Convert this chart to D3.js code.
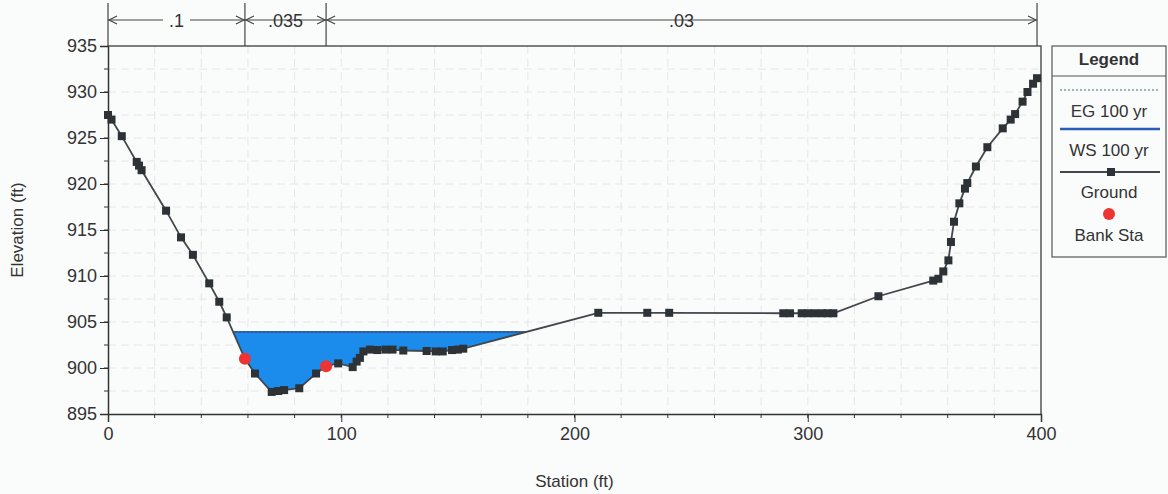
<!DOCTYPE html>
<html>
<head>
<meta charset="utf-8">
<script src="https://cdn.jsdelivr.net/npm/d3@7"></script>
<style>
    body { margin: 0; background: #fafbfb; }
    text { font-family: "Liberation Sans", Arial, sans-serif; fill: #333; }
</style>
</head>
<body>
<div id="chart"></div>
<script>
// Ground profile (station ft, elevation ft)
let groundSta = [0, 1.5, 5.9, 12.3, 13.3, 14.4, 24.9, 31.3, 36.4, 43.4, 47.7, 50.9, 58.7, 63.0, 70.2, 73.0, 75.5, 82.0,
    89.2, 93.5, 98.7, 104.9, 106.6, 108.0, 109.5, 112.3, 115.5, 119.0, 122.0, 126.6, 136.6, 140.5, 143.5, 147.5,
    150.0, 152.3, 210.2, 231.2, 240.6, 289.5, 292.4, 297.4, 300, 303, 306, 308.5, 311, 330.3, 353.8, 356.0, 358.1,
    360.3, 361.4, 362.7, 365.0, 367.4, 368.4, 372.1, 377.0, 383.6, 387.0, 388.9, 392.1, 394.2, 396.6, 398.3];
let groundElev = [927.5, 927.0, 925.2, 922.4, 922.0, 921.5, 917.1, 914.2, 912.3, 909.2, 907.2, 905.5, 901.0, 899.4,
    897.4, 897.5, 897.6, 897.8, 899.4, 900.2, 900.5, 900.1, 900.7, 901.1, 901.8, 902.0, 901.95, 902.0, 902.0, 901.9,
    901.85, 901.8, 901.8, 901.95, 902.0, 902.1, 906.0, 906.0, 906.0, 905.95, 905.95, 905.95, 905.95, 905.95, 905.95,
    905.95, 905.95, 907.8, 909.5, 909.7, 910.5, 911.7, 913.7, 915.9, 917.9, 919.5, 920.1, 921.9, 924.0, 926.05,
    927.0, 927.6, 928.95, 930.0, 930.9, 931.5];

// Bank stations
let bankSta = [58.7, 93.5];
let bankElev = [901.0, 900.2];

// Water surface and energy grade (100 yr)
let wsElev = 903.9;
let egElev = 903.95;

// Manning's n regions
let nBounds = [0, 58.7, 93.5, 398.3];
let nLabels = [".1", ".035", ".03"];

// Axis ticks
let xTicks = [0, 100, 200, 300, 400];
let yTicks = [895, 900, 905, 910, 915, 920, 925, 930, 935];

let legendItems = ["EG 100 yr", "WS 100 yr", "Ground", "Bank Sta"];

let width = 1168, height = 494;
let plot = {left: 108, right: 1041, top: 46, bottom: 414};
let bg = "#fafbfb";
let fontSize = "18px";

let svg = d3.select("#chart").append("svg")
    .attr("width", width)
    .attr("height", height)
    .style("background", bg);

let x = d3.scaleLinear().domain([0, 400]).range([plot.left, plot.right]);
let y = d3.scaleLinear().domain([895, 935]).range([plot.bottom, plot.top]);

// Grid lines (every 20 ft / 2.5 ft)
let gridX = d3.range(20, 400, 20);
let gridY = d3.range(897.5, 935, 2.5);
svg.append("g").selectAll("line").data(gridX).enter().append("line")
    .attr("x1", d => x(d)).attr("x2", d => x(d))
    .attr("y1", plot.top).attr("y2", plot.bottom)
    .style("stroke", "#e4e7e8").style("stroke-dasharray", "8,5");
svg.append("g").selectAll("line").data(gridY).enter().append("line")
    .attr("x1", plot.left).attr("x2", plot.right)
    .attr("y1", d => y(d)).attr("y2", d => y(d))
    .style("stroke", "#e4e7e8").style("stroke-dasharray", "8,5");

// Frame (top and right)
svg.append("path")
    .attr("d", `M ${plot.left} ${plot.top} H ${plot.right} V ${plot.bottom}`)
    .style("fill", "none").style("stroke", "#555").style("stroke-width", 1.5);

let ground = groundSta.map((s, i) => ({s: s, e: groundElev[i]}));

// Build wetted polygon where ground is below the water surface
let wet = [];
for (let i = 0; i < ground.length; i++) {
    let p = ground[i];
    if (i > 0) {
        let q = ground[i - 1];
        if ((q.e - wsElev) * (p.e - wsElev) < 0) {
            let t = (wsElev - q.e) / (p.e - q.e);
            wet.push({s: q.s + t * (p.s - q.s), e: wsElev});
        }
    }
    if (p.e <= wsElev) wet.push(p);
}

let area = d3.area()
    .x(d => x(d.s))
    .y0(y(wsElev))
    .y1(d => y(d.e));

svg.append("path").datum(wet)
    .attr("d", area)
    .style("fill", "#1b8cec");

let sLeft = wet[0].s, sRight = wet[wet.length - 1].s;

// WS line
svg.append("line")
    .attr("x1", x(sLeft)).attr("x2", x(sRight))
    .attr("y1", y(wsElev)).attr("y2", y(wsElev))
    .style("stroke", "#2b5cb8").style("stroke-width", 2);

// EG line
svg.append("line")
    .attr("x1", x(sLeft)).attr("x2", x(sRight))
    .attr("y1", y(egElev)).attr("y2", y(egElev))
    .style("stroke", "#3f6e7a").style("stroke-width", 1.2).style("stroke-dasharray", "2,2");

// Ground line
let line = d3.line().x(d => x(d.s)).y(d => y(d.e));
svg.append("path").datum(ground)
    .attr("d", line)
    .style("fill", "none").style("stroke", "#42474b").style("stroke-width", 1.8);

svg.append("g").selectAll("rect").data(ground).enter().append("rect")
    .attr("x", d => x(d.s) - 4).attr("y", d => y(d.e) - 4)
    .attr("width", 8).attr("height", 8)
    .style("fill", "#2d3236");

// Bank stations
svg.append("g").selectAll("circle").data(bankSta).enter().append("circle")
    .attr("cx", d => x(d)).attr("cy", (d, i) => y(bankElev[i]))
    .attr("r", 6)
    .style("fill", "#ee3333");

// Axes
let xAxis = svg.append("g")
    .attr("transform", `translate(0,${plot.bottom})`)
    .call(d3.axisBottom(x).tickValues(xTicks).tickSize(8).tickPadding(5).tickFormat(d3.format("d")));
xAxis.append("g").selectAll("line").data(gridX).enter().append("line")
    .attr("x1", d => x(d)).attr("x2", d => x(d)).attr("y1", 0).attr("y2", 4)
    .style("stroke", "#333");

let yAxis = svg.append("g")
    .attr("transform", `translate(${plot.left},0)`)
    .call(d3.axisLeft(y).tickValues(yTicks).tickSize(8).tickPadding(3).tickFormat(d3.format("d")));
yAxis.append("g").selectAll("line").data(gridY).enter().append("line")
    .attr("y1", d => y(d)).attr("y2", d => y(d)).attr("x1", 0).attr("x2", -4)
    .style("stroke", "#333");

[xAxis, yAxis].forEach(a => {
    a.select(".domain").style("stroke", "#333").style("stroke-width", 1.5);
    a.selectAll(".tick line").style("stroke", "#333");
    a.selectAll(".tick text").style("font-size", fontSize).style("fill", "#333")
        .style("font-family", "'Liberation Sans', Arial, sans-serif");
});

// Axis titles
svg.append("text")
    .attr("x", (plot.left + plot.right) / 2).attr("y", 487)
    .attr("text-anchor", "middle")
    .style("font-size", "17px")
    .text("Station (ft)");
svg.append("text")
    .attr("transform", `translate(23,${(plot.top + plot.bottom) / 2}) rotate(-90)`)
    .attr("text-anchor", "middle")
    .style("font-size", "17px")
    .text("Elevation (ft)");

// Manning's n bar
let nY = 20;
let nG = svg.append("g");
nG.selectAll("line.sep").data(nBounds).enter().append("line")
    .attr("class", "sep")
    .attr("x1", d => x(d)).attr("x2", d => x(d))
    .attr("y1", 3).attr("y2", plot.top)
    .style("stroke", "#444").style("stroke-width", 1.2);

nLabels.forEach(function (lbl, i) {
    let x0 = x(nBounds[i]), x1 = x(nBounds[i + 1]);
    nG.append("line")
        .attr("x1", x0).attr("x2", x1).attr("y1", nY).attr("y2", nY)
        .style("stroke", "#444").style("stroke-width", 1.2);
    // arrow heads pointing to each boundary
    nG.append("path")
        .attr("d", `M ${x0 + 9} ${nY - 4} L ${x0 + 1} ${nY} L ${x0 + 9} ${nY + 4} M ${x1 - 9} ${nY - 4} L ${x1 - 1} ${nY} L ${x1 - 9} ${nY + 4}`)
        .style("fill", "none").style("stroke", "#444").style("stroke-width", 1.2);
    let t = nG.append("text")
        .attr("x", (x0 + x1) / 2).attr("y", nY + 7)
        .attr("text-anchor", "middle")
        .style("font-size", fontSize)
        .text(lbl);
    let bb = t.node().getBBox();
    nG.insert("rect", "text")
        .attr("x", bb.x - 6).attr("y", nY - 3).attr("width", bb.width + 12).attr("height", 6)
        .style("fill", bg);
});

// Legend
let lg = svg.append("g");
let lx0 = 1052, lx1 = 1166;
lg.append("rect")
    .attr("x", lx0).attr("y", 46).attr("width", lx1 - lx0).attr("height", 211)
    .style("fill", bg).style("stroke", "#555").style("stroke-width", 1.2);
lg.append("text")
    .attr("x", (lx0 + lx1) / 2).attr("y", 65)
    .attr("text-anchor", "middle")
    .style("font-size", "17px").style("font-weight", "bold")
    .text("Legend");
lg.append("line")
    .attr("x1", lx0).attr("x2", lx1).attr("y1", 76).attr("y2", 76)
    .style("stroke", "#555");

let symY = [90, 129, 172, 214];
let txtY = [117, 156, 198, 241];
lg.selectAll("text.item").data(legendItems).enter().append("text")
    .attr("class", "item")
    .attr("x", (lx0 + lx1) / 2).attr("y", (d, i) => txtY[i])
    .attr("text-anchor", "middle")
    .style("font-size", "17px")
    .text(d => d);

lg.append("line")
    .attr("x1", lx0 + 8).attr("x2", lx1 - 6).attr("y1", symY[0]).attr("y2", symY[0])
    .style("stroke", "#3f6e7a").style("stroke-width", 1.2).style("stroke-dasharray", "2,2");
lg.append("line")
    .attr("x1", lx0 + 8).attr("x2", lx1 - 6).attr("y1", symY[1]).attr("y2", symY[1])
    .style("stroke", "#2b5cb8").style("stroke-width", 2.5);
lg.append("line")
    .attr("x1", lx0 + 8).attr("x2", lx1 - 6).attr("y1", symY[2]).attr("y2", symY[2])
    .style("stroke", "#42474b").style("stroke-width", 1.8);
lg.append("rect")
    .attr("x", (lx0 + lx1) / 2 + 2 - 4).attr("y", symY[2] - 4).attr("width", 8).attr("height", 8)
    .style("fill", "#2d3236");
lg.append("circle")
    .attr("cx", (lx0 + lx1) / 2).attr("cy", symY[3]).attr("r", 6)
    .style("fill", "#ee3333");
</script>
</body>
</html>
